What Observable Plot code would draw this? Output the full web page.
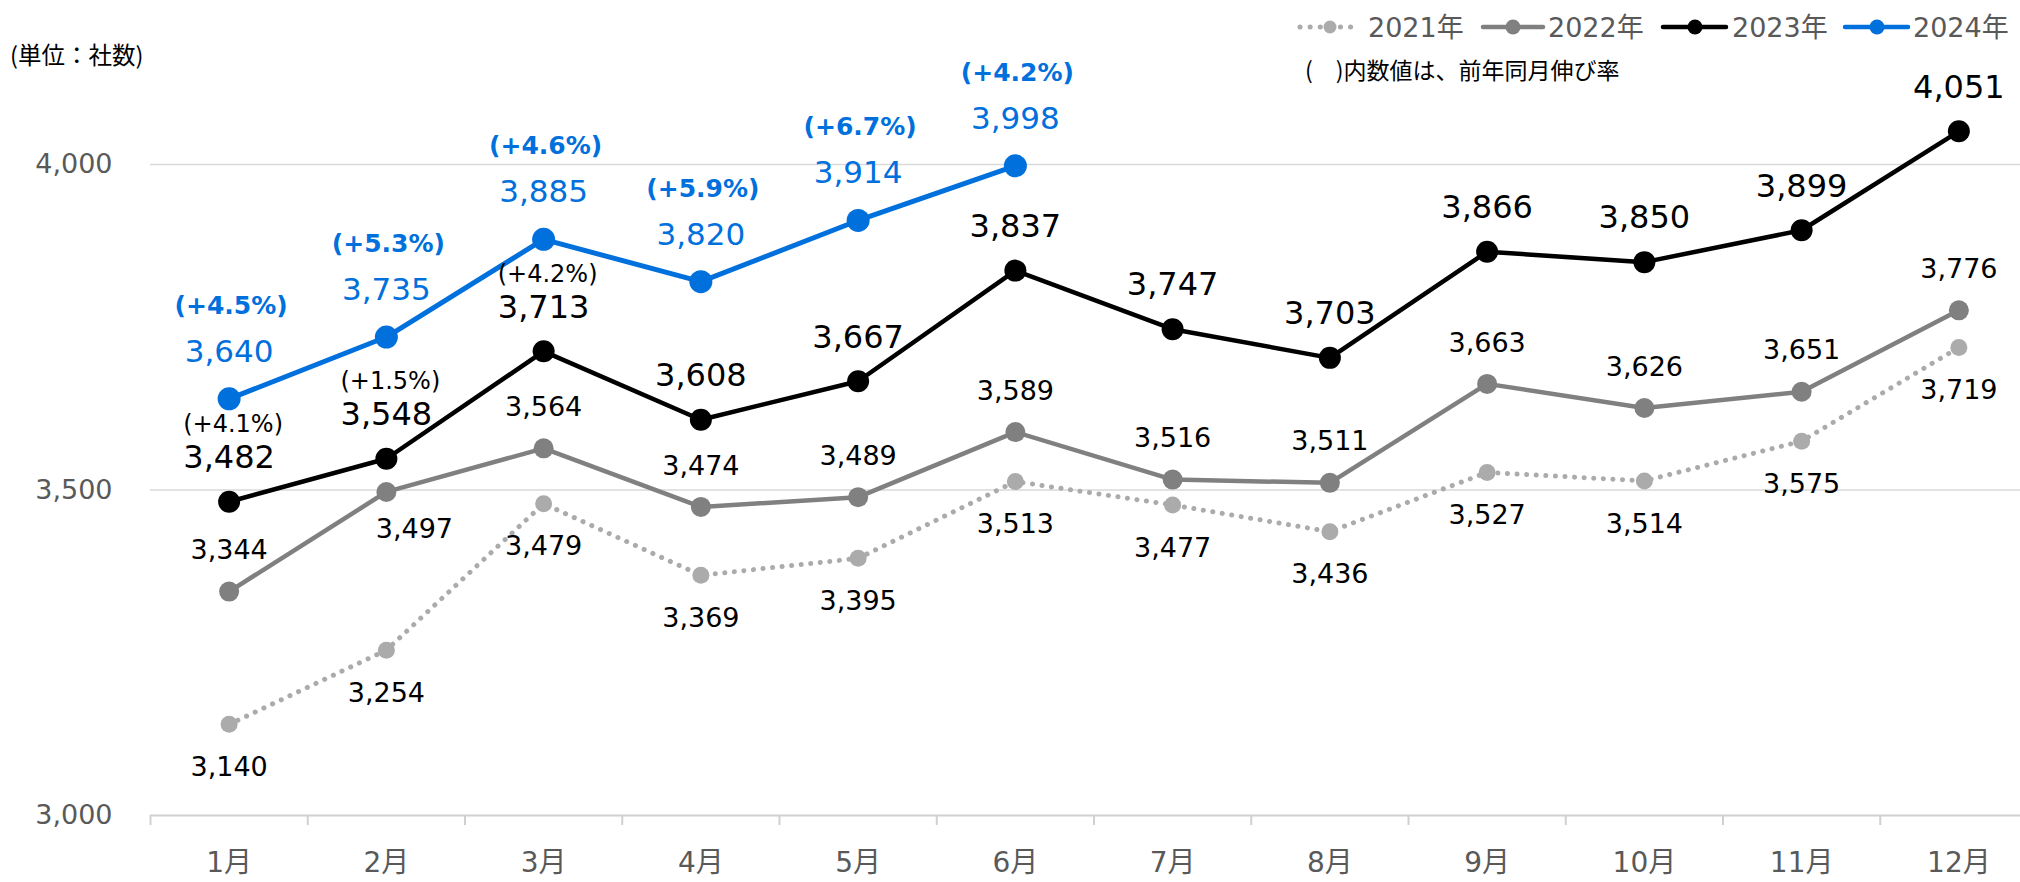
<!DOCTYPE html>
<html>
<head>
<meta charset="utf-8">
<script src="https://cdn.jsdelivr.net/npm/d3@7"></script>
<script src="https://cdn.jsdelivr.net/npm/@observablehq/plot@0.6"></script>
<style>
  html, body { margin: 0; padding: 0; background: #fff; overflow: hidden; }
  #wrap { position: relative; width: 2020px; height: 882px; }
  #chart svg { position: absolute; left: 0; top: 0; }
  #overlay { position: absolute; left: 0; top: 0; pointer-events: none; }
</style>
</head>
<body>
<div id="wrap">
  <div id="chart"></div>
  <svg id="overlay" width="2020" height="120"></svg>
</div>
<script>
// ---- data ----
const months = ["1月","2月","3月","4月","5月","6月","7月","8月","9月","10月","11月","12月"];
const v2021 = [3140, 3254, 3479, 3369, 3395, 3513, 3477, 3436, 3527, 3514, 3575, 3719];
const v2022 = [3344, 3497, 3564, 3474, 3489, 3589, 3516, 3511, 3663, 3626, 3651, 3776];
const v2023 = [3482, 3548, 3713, 3608, 3667, 3837, 3747, 3703, 3866, 3850, 3899, 4051];
const v2024 = [3640, 3735, 3885, 3820, 3914, 3998];
const growth2023 = [4.1, 1.5, 4.2];
const growth2024 = [4.5, 5.3, 4.6, 5.9, 6.7, 4.2];
const yTicks = [3000, 3500, 4000];
const seriesNames = ["2021年", "2022年", "2023年", "2024年"];
const unitText = "(単位：社数)";
const noteText = "(\u3000)内数値は、前年同月伸び率";
const below2022 = ["2月"];

// ---- derived tables ----
const rows = (vals, year, growth) => vals.map((v, i) => ({m: i + 1, month: months[i], v, year, g: growth ? growth[i] : undefined}));
const d21 = rows(v2021, seriesNames[0]);
const d22 = rows(v2022, seriesNames[1]);
const d23 = rows(v2023, seriesNames[2], growth2023);
const d24 = rows(v2024, seriesNames[3], growth2024);
const fmt = d3.format(",");
const pct = g => `(+${g.toFixed(1)}%)`;

const C21 = "#ababab", C22 = "#808080", C23 = "#000000", C24 = "#0070dd";
const FONT = "'DejaVu Sans', 'Noto Sans CJK JP', sans-serif";

const chart = Plot.plot({
  width: 2020,
  height: 882,
  marginLeft: 150,
  marginRight: 0,
  marginTop: 0,
  marginBottom: 67,
  style: {fontFamily: FONT, background: "transparent", overflow: "visible"},
  x: {type: "linear", domain: [0.5, 12.5], range: [150, 2037]},
  y: {domain: [3000, 4000], range: [815, 164]},
  marks: [
    Plot.ruleY(yTicks.slice(1), {stroke: "#d9d9d9", strokeWidth: 1.5}),
    Plot.ruleY(yTicks.slice(0, 1), {stroke: "#d0d0d0", strokeWidth: 2}),
    Plot.axisX({ticks: d3.range(0.5, 13, 1), tickSize: 10, tickFormat: () => "", stroke: "#d0d0d0", strokeWidth: 2, label: null}),
    Plot.axisX({ticks: d3.range(1, 13), tickSize: 0, tickPadding: 37, tickFormat: i => months[i - 1], fontSize: 28, color: "#595959", label: null}),
    Plot.axisY({ticks: yTicks, tickSize: 0, tickPadding: 38, tickFormat: fmt, fontSize: 27, color: "#595959", label: null}),

    Plot.line(d21, {x: "m", y: "v", stroke: C21, strokeWidth: 5, strokeDasharray: "0.1 9.5", strokeLinecap: "round"}),
    Plot.dot(d21, {x: "m", y: "v", r: 8.5, fill: C21}),
    Plot.line(d22, {x: "m", y: "v", stroke: C22, strokeWidth: 4.5}),
    Plot.dot(d22, {x: "m", y: "v", r: 10, fill: C22}),
    Plot.line(d23, {x: "m", y: "v", stroke: C23, strokeWidth: 4.5}),
    Plot.dot(d23, {x: "m", y: "v", r: 11, fill: C23}),
    Plot.line(d24, {x: "m", y: "v", stroke: C24, strokeWidth: 5}),
    Plot.dot(d24, {x: "m", y: "v", r: 11.5, fill: C24}),

    Plot.text(d21, {x: "m", y: "v", text: d => fmt(d.v), dy: 43, fontSize: 27, fill: "#000"}),
    Plot.text(d22.filter(d => !below2022.includes(d.month)), {x: "m", y: "v", text: d => fmt(d.v), dy: -41, fontSize: 27, fill: "#000"}),
    Plot.text(d22.filter(d => below2022.includes(d.month)), {x: "m", y: "v", text: d => fmt(d.v), dy: 37, dx: 28, fontSize: 27, fill: "#000"}),
    Plot.text(d23, {x: "m", y: "v", text: d => fmt(d.v), dy: -44, fontSize: 32, fill: "#000"}),
    Plot.text(d23.filter(d => d.g !== undefined), {x: "m", y: "v", text: d => pct(d.g), dy: -77, dx: 4, fontSize: 24, fill: "#000"}),
    Plot.text(d24, {x: "m", y: "v", text: d => fmt(d.v), dy: -47, fontSize: 31, fill: C24}),
    Plot.text(d24, {x: "m", y: "v", text: d => pct(d.g), dy: -93, dx: 2, fontSize: 25, fontWeight: "bold", fill: C24})
  ]
});
document.getElementById("chart").appendChild(chart);

// ---- legend & notes (overlay) ----
const ov = d3.select("#overlay");
ov.append("text").attr("x", 10).attr("y", 58).attr("dominant-baseline", "middle")
  .style("font-family", "'Noto Sans CJK JP'").style("font-size", "23.5px").attr("fill", "#000").text(unitText);
ov.append("text").attr("x", 1305).attr("y", 73).attr("dominant-baseline", "middle")
  .style("font-family", "'Noto Sans CJK JP'").style("font-size", "23px").attr("fill", "#000").text(noteText);

const legend = [
  {name: seriesNames[0], color: C21, x0: 1300, x1: 1357, cx: 1330, r: 6.5, w: 5, dash: "0.1 10", tx: 1368},
  {name: seriesNames[1], color: C22, x0: 1483, x1: 1543, cx: 1513, r: 7.5, w: 4.5, dash: null, tx: 1548},
  {name: seriesNames[2], color: C23, x0: 1663, x1: 1726, cx: 1695, r: 7.5, w: 4.5, dash: null, tx: 1732},
  {name: seriesNames[3], color: C24, x0: 1845, x1: 1908, cx: 1877, r: 7.5, w: 4.5, dash: null, tx: 1913}
];
const ly = 27;
legend.forEach(l => {
  const line = ov.append("line").attr("x1", l.x0).attr("x2", l.x1).attr("y1", ly).attr("y2", ly)
    .attr("stroke", l.color).attr("stroke-width", l.w).attr("stroke-linecap", "round");
  if (l.dash) line.attr("stroke-dasharray", l.dash);
  ov.append("circle").attr("cx", l.cx).attr("cy", ly).attr("r", l.r).attr("fill", l.color);
  ov.append("text").attr("x", l.tx).attr("y", ly + 2).attr("dominant-baseline", "middle")
    .style("font-family", FONT).style("font-size", "27px").attr("fill", "#595959").text(l.name);
});
</script>
</body>
</html>
